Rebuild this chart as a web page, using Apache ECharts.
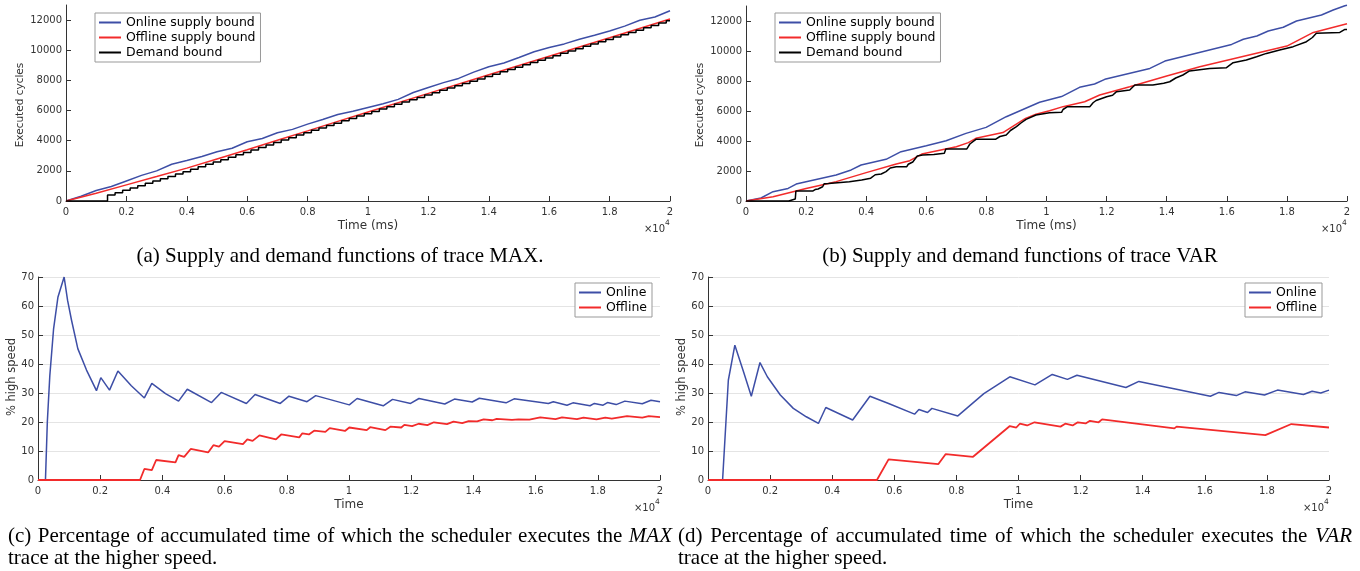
<!DOCTYPE html>
<html>
<head>
<meta charset="utf-8">
<script src="https://cdn.jsdelivr.net/npm/echarts@6/dist/echarts.min.js"></script>
<style>
  html, body { margin: 0; padding: 0; background: #fff; }
  #main { width: 1360px; height: 571px; }
</style>
</head>
<body>
<div id="main"></div>
<script>
// x ticks are shown in units of 10^4 ms
var xTickLabels = ['0', '0.2', '0.4', '0.6', '0.8', '1', '1.2', '1.4', '1.6', '1.8', '2'];
var cycleTicks = [0, 2000, 4000, 6000, 8000, 10000, 12000];

// (a) trace MAX, [time ms, executed cycles]
var maxOnline = [[0, 0], [500, 320], [1000, 700], [1500, 960], [2000, 1330], [2500, 1700], [3000, 2000],
	[3500, 2440], [4000, 2680], [4500, 2950], [5000, 3270], [5500, 3500], [6000, 3930], [6500, 4150],
	[7000, 4530], [7500, 4750], [8000, 5100], [8500, 5400], [9000, 5740], [9500, 5950], [10000, 6200],
	[10500, 6450], [11000, 6740], [11500, 7200], [12000, 7530], [12500, 7850], [13000, 8130], [13500, 8550],
	[14000, 8900], [14500, 9150], [15000, 9520], [15500, 9900], [16000, 10180], [16500, 10420],
	[17000, 10730], [17500, 10990], [18000, 11280], [18500, 11600], [19000, 11990], [19500, 12200],
	[20000, 12620]];
var maxOffline = [[0, 0], [1000, 520], [2000, 1070], [3000, 1620], [4000, 2180], [5000, 2790], [6000, 3400],
	[7000, 4030], [8000, 4650], [9000, 5280], [10000, 5900], [12000, 7140], [14000, 8370], [16000, 9600],
	[18000, 10830], [20000, 12070]];
var maxDemand = [[0, 0], [1375, 400], [1625, 550], [1875, 710], [2125, 860], [2375, 1010], [2625, 1170],
	[2875, 1320], [3125, 1480], [3375, 1630], [3625, 1790], [3875, 1940], [4125, 2110], [4375, 2270],
	[4625, 2430], [4875, 2590], [5125, 2740], [5375, 2900], [5625, 3060], [5875, 3220], [6125, 3390],
	[6375, 3550], [6625, 3710], [6875, 3880], [7125, 4040], [7375, 4200], [7625, 4370], [7875, 4530],
	[8125, 4690], [8375, 4850], [8625, 5000], [8875, 5160], [9125, 5320], [9375, 5470], [9625, 5630],
	[9875, 5780], [10125, 5940], [10375, 6100], [10625, 6250], [10875, 6410], [11125, 6560], [11375, 6720],
	[11625, 6870], [11875, 7030], [12125, 7180], [12375, 7340], [12625, 7490], [12875, 7640], [13125, 7800],
	[13375, 7950], [13625, 8100], [13875, 8260], [14125, 8410], [14375, 8570], [14625, 8720], [14875, 8870],
	[15125, 9030], [15375, 9180], [15625, 9340], [15875, 9490], [16125, 9640], [16375, 9800], [16625, 9950],
	[16875, 10100], [17125, 10260], [17375, 10410], [17625, 10570], [17875, 10720], [18125, 10870],
	[18375, 11030], [18625, 11180], [18875, 11330], [19125, 11490], [19375, 11640], [19625, 11800],
	[19875, 11950], [20000, 11950]];

// (b) trace VAR, [time ms, executed cycles]
var varOnline = [[0, 0], [500, 200], [900, 620], [1400, 840], [1670, 1130], [2000, 1290], [3000, 1730],
	[3500, 2070], [3830, 2400], [4660, 2780], [5160, 3290], [6000, 3690], [6660, 4020], [7320, 4510],
	[7990, 4910], [8660, 5620], [9770, 6580], [10500, 6960], [11100, 7580], [11600, 7800], [11940, 8110],
	[13440, 8840], [13940, 9330], [16160, 10440], [16550, 10780], [17000, 11000], [17380, 11330],
	[17880, 11580], [18320, 12000], [19150, 12400], [19540, 12730], [19930, 13020], [20000, 13050]];
var varOffline = [[0, 0], [900, 290], [2000, 840], [3000, 1290], [4000, 1890], [5000, 2470], [5450, 2690],
	[5850, 3130], [7000, 3620], [7400, 3890], [7650, 4180], [8550, 4560], [9300, 5510], [9650, 5780],
	[10100, 6020], [10550, 6290], [11270, 6620], [11770, 7070], [12770, 7620], [14000, 8330], [15100, 8950],
	[18000, 10330], [18880, 11240], [20000, 11820]];
var varDemand = [[0, 0], [1420, 0], [1420, 130], [1640, 130], [1660, 670], [2230, 670], [2300, 760],
	[2400, 800], [2450, 900], [2550, 950], [2600, 1150], [2750, 1170], [2780, 1290], [3440, 1290],
	[3460, 1400], [3850, 1400], [3880, 1520], [4150, 1520], [4200, 1580], [4300, 1750], [4500, 1800],
	[4660, 1960], [4800, 2200], [5000, 2290], [5350, 2290], [5400, 2450], [5550, 2600], [5700, 3000],
	[5880, 3070], [6250, 3100], [6600, 3180], [6650, 3470], [7350, 3470], [7450, 3800], [7650, 4110],
	[8300, 4110], [8450, 4300], [8660, 4400], [8800, 4700], [9000, 4960], [9150, 5200], [9320, 5440],
	[9650, 5730], [10100, 5890], [10500, 5910], [10550, 6100], [10700, 6290], [11440, 6290], [11550, 6550],
	[11650, 6700], [12000, 6950], [12200, 7050], [12330, 7290], [12770, 7400], [12940, 7730], [13540, 7730],
	[13900, 7850], [14100, 7950], [14300, 8200], [14540, 8400], [14760, 8670], [15430, 8840], [15990, 8890],
	[16210, 9220], [16650, 9400], [16990, 9620], [17320, 9840], [17760, 10070], [18210, 10290],
	[18650, 10620], [18850, 10900], [18980, 11180], [19760, 11240], [19930, 11440], [20000, 11440]];

// (c) % high speed, trace MAX
var pctMaxOnline = [[0, 0], [240, 0], [300, 20], [380, 36], [500, 52], [640, 63], [840, 70], [950, 62],
	[1080, 55], [1280, 45.3], [1560, 37.9], [1880, 30.8], [2020, 35.3], [2300, 31], [2570, 37.6],
	[3000, 32.5], [3420, 28.3], [3660, 33.3], [4100, 29.8], [4520, 27.2], [4800, 31.3], [5580, 26.7],
	[5890, 30.2], [6700, 26.4], [6980, 29.5], [7790, 26.4], [8070, 28.9], [8650, 27], [8930, 29.1],
	[10010, 25.9], [10260, 28.1], [11100, 25.6], [11400, 27.8], [11980, 26.4], [12250, 28.1], [13080, 26.2],
	[13390, 27.9], [13960, 26.9], [14190, 28.2], [15050, 26.6], [15310, 28], [16410, 26.4], [16570, 27],
	[17010, 25.8], [17200, 26.6], [17750, 25.6], [17890, 26.4], [18170, 25.8], [18310, 26.7], [18590, 26],
	[18870, 27.2], [19430, 26.3], [19710, 27.5], [20000, 27]];
var pctMaxOffline = [[0, 0], [3280, 0], [3420, 3.8], [3660, 3.4], [3800, 6.9], [4420, 6.1], [4520, 8.6],
	[4700, 8], [4910, 10.7], [5470, 9.5], [5640, 12], [5820, 11.5], [6000, 13.4], [6590, 12.4], [6730, 14],
	[6900, 13.5], [7120, 15.4], [7650, 14], [7820, 15.7], [8400, 14.7], [8500, 16.1], [8710, 15.7],
	[8880, 17], [9240, 16.6], [9380, 17.9], [9870, 16.9], [10010, 18.1], [10570, 17.2], [10680, 18.2],
	[11170, 17.2], [11330, 18.4], [11680, 18.1], [11780, 19], [12030, 18.6], [12240, 19.4], [12520, 18.9],
	[12730, 19.9], [13150, 19.3], [13360, 20.1], [13640, 19.6], [13850, 20.3], [14120, 20.2], [14330, 20.9],
	[14610, 20.6], [14750, 21.1], [15240, 20.7], [15450, 20.9], [15800, 20.8], [16150, 21.6], [16640, 21],
	[16850, 21.6], [17330, 21], [17540, 21.5], [17960, 20.9], [18240, 21.5], [18450, 21.2], [18940, 22],
	[19430, 21.5], [19640, 22], [20000, 21.7]];

// (d) % high speed, trace VAR
var pctVarOnline = [[0, 0], [470, 0], [655, 34.4], [865, 46.5], [1144, 37.3], [1395, 28.9], [1674, 40.5],
	[1911, 35.6], [2329, 29.3], [2748, 24.7], [3166, 21.8], [3556, 19.5], [3794, 25], [4658, 20.7],
	[5216, 28.9], [5816, 26.4], [6653, 22.7], [6792, 24.3], [7071, 23.3], [7211, 24.7], [8047, 22.1],
	[8884, 29.8], [9721, 35.6], [10530, 32.8], [11088, 36.4], [11576, 34.7], [11883, 36.1], [13459, 31.9],
	[13877, 34], [16179, 28.9], [16458, 30.2], [17016, 29.1], [17295, 30.4], [17922, 29.3], [18341, 31],
	[19178, 29.5], [19456, 30.6], [19735, 30], [20000, 31]];
var pctVarOffline = [[0, 0], [5440, 0], [5816, 7.1], [7420, 5.5], [7657, 8.95], [8536, 8], [9721, 18.6],
	[9930, 18.1], [10042, 19.4], [10279, 18.8], [10516, 19.9], [11353, 18.4], [11506, 19.4], [11743, 18.8],
	[11911, 19.9], [12162, 19.5], [12301, 20.4], [12580, 19.9], [12692, 20.9], [15021, 17.8], [15091, 18.4],
	[17950, 15.5], [18787, 19.3], [20000, 18.1]];

var BLUE = '#3d4ea6';
var RED = '#f22b2b';
var AXIS = '#333';
var TICK_FONT = 'DejaVu Sans';
var SERIF = '"Liberation Serif"';
var CAPTION = '21px ' + SERIF;

// grids in pixels: a, b, c, d
var grids = [
	{left: 66, top: 5, width: 604, height: 196},
	{left: 746, top: 6, width: 601, height: 195},
	{left: 38, top: 277, width: 622, height: 203},
	{left: 708, top: 277, width: 621, height: 203}
];

function plainNumber(v) {
	return String(v);
}

function xAxisFor(i) {
	return {
		type: 'value', gridIndex: i, min: 0, max: 20000, interval: 2000,
		axisLine: {lineStyle: {color: AXIS, width: 1}},
		axisTick: {inside: true, length: 5, lineStyle: {color: AXIS}},
		axisLabel: {
			margin: 6, color: AXIS, fontFamily: TICK_FONT, fontSize: 10,
			formatter: function(v) {
				return xTickLabels[Math.round(v / 2000)];
			}
		},
		splitLine: {show: false}
	};
}

function yAxisCycles(i) {
	return {
		type: 'value', gridIndex: i, min: 0, max: 13000, interval: 2000,
		axisLine: {show: true, lineStyle: {color: AXIS, width: 1}},
		axisTick: {show: true, inside: true, length: 5, lineStyle: {color: AXIS}, customValues: cycleTicks},
		axisLabel: {margin: 4, color: AXIS, fontFamily: TICK_FONT, fontSize: 10, customValues: cycleTicks,
			formatter: plainNumber},
		splitLine: {show: false}
	};
}

function yAxisPct(i) {
	return {
		type: 'value', gridIndex: i, min: 0, max: 70, interval: 10,
		axisLine: {show: true, lineStyle: {color: AXIS, width: 1}},
		axisTick: {show: true, inside: true, length: 5, lineStyle: {color: AXIS}},
		axisLabel: {margin: 4, color: AXIS, fontFamily: TICK_FONT, fontSize: 10, formatter: plainNumber},
		splitLine: {show: true, lineStyle: {color: '#e4e4e4', width: 1}}
	};
}

function line(name, data, i, color, extra) {
	var s = {
		type: 'line', name: name, data: data, xAxisIndex: i, yAxisIndex: i,
		symbol: 'none', showSymbol: false, clip: false,
		lineStyle: {color: color, width: 1.5}, itemStyle: {color: color}
	};
	for (var k in extra) {
		s[k] = extra[k];
	}
	return s;
}

function legendAt(left, top, names) {
	return {
		data: names, left: left, top: top, orient: 'vertical',
		itemWidth: 22, itemHeight: 14, itemGap: 2, padding: [3, 5, 3, 3],
		borderColor: '#999', borderWidth: 1, backgroundColor: '#fff',
		itemStyle: {opacity: 0},
		textStyle: {fontFamily: TICK_FONT, fontSize: 12.5, color: '#000'},
		selectedMode: false
	};
}

function text(str, x, y, font, opts) {
	opts = opts || {};
	return {
		type: 'text', x: x, y: y, rotation: opts.rotation || 0, silent: true,
		style: {
			text: str, font: font, fill: opts.fill || '#000',
			textAlign: opts.align || 'center', align: opts.align || 'center',
			textVerticalAlign: 'middle', verticalAlign: 'middle'
		}
	};
}

// one line of a justified caption, words spread between x0 and x1
var measureCtx = document.createElement('canvas').getContext('2d');
function justified(words, italic, x0, x1, y) {
	var fonts = words.map(function(w) {
		return (italic.indexOf(w) >= 0 ? 'italic ' : '') + CAPTION;
	});
	var widths = words.map(function(w, i) {
		measureCtx.font = fonts[i];
		return measureCtx.measureText(w).width;
	});
	var total = widths.reduce(function(a, b) { return a + b; }, 0);
	var gap = (x1 - x0 - total) / (words.length - 1);
	var out = [];
	var x = x0;
	words.forEach(function(w, i) {
		out.push(text(w, x, y, fonts[i], {align: 'left'}));
		x += widths[i] + gap;
	});
	return out;
}

function axisNames(g, xName, yName, yNameX, yNameY, xNameY, yNameFont) {
	var right = g.left + g.width;
	var cx = g.left + g.width / 2;
	var powY = g.top + g.height + 28;
	return [
		text(xName, cx, xNameY, '12px "DejaVu Sans"', {fill: AXIS}),
		text(yName, yNameX, yNameY, yNameFont, {fill: AXIS, rotation: Math.PI / 2}),
		text('\u00d710', right - 5, powY, '10px "DejaVu Sans"', {fill: AXIS, align: 'right'}),
		text('4', right - 5, powY - 6, '7.5px "DejaVu Sans"', {fill: AXIS, align: 'left'})
	];
}

var graphics = [];
graphics = graphics.concat(axisNames(grids[0], 'Time (ms)', 'Executed cycles', 20, 105, 226, '10.5px "DejaVu Sans"'));
graphics = graphics.concat(axisNames(grids[1], 'Time (ms)', 'Executed cycles', 700, 105, 226, '10.5px "DejaVu Sans"'));
graphics = graphics.concat(axisNames(grids[2], 'Time', '% high speed', 12, 377, 505, '11.5px "DejaVu Sans"'));
graphics = graphics.concat(axisNames(grids[3], 'Time', '% high speed', 682, 377, 505, '11.5px "DejaVu Sans"'));

graphics.push(text('(a) Supply and demand functions of trace MAX.', 340, 256, CAPTION));
graphics.push(text('(b) Supply and demand functions of trace VAR', 1020, 256, CAPTION));
graphics = graphics.concat(justified(
	'(c) Percentage of accumulated time of which the scheduler executes the MAX'.split(' '),
	['MAX'], 8, 672, 536));
graphics.push(text('trace at the higher speed.', 8, 558, CAPTION, {align: 'left'}));
graphics = graphics.concat(justified(
	'(d) Percentage of accumulated time of which the scheduler executes the VAR'.split(' '),
	['VAR'], 678, 1352, 536));
graphics.push(text('trace at the higher speed.', 678, 558, CAPTION, {align: 'left'}));

var option = {
	animation: false,
	backgroundColor: '#fff',
	grid: grids,
	xAxis: [xAxisFor(0), xAxisFor(1), xAxisFor(2), xAxisFor(3)],
	yAxis: [yAxisCycles(0), yAxisCycles(1), yAxisPct(2), yAxisPct(3)],
	legend: [
		legendAt(95, 13, ['Online supply bound', 'Offline supply bound', 'Demand bound']),
		legendAt(775, 13, ['Online supply bound', 'Offline supply bound', 'Demand bound']),
		legendAt(575, 283, ['Online', 'Offline']),
		legendAt(1245, 283, ['Online', 'Offline'])
	],
	series: [
		line('Online supply bound', maxOnline, 0, BLUE),
		line('Offline supply bound', maxOffline, 0, RED),
		line('Demand bound', maxDemand, 0, '#000', {step: 'end'}),
		line('Online supply bound', varOnline, 1, BLUE),
		line('Offline supply bound', varOffline, 1, RED),
		line('Demand bound', varDemand, 1, '#000'),
		line('Online', pctMaxOnline, 2, BLUE),
		line('Offline', pctMaxOffline, 2, RED, {lineStyle: {color: RED, width: 1.8}}),
		line('Online', pctVarOnline, 3, BLUE),
		line('Offline', pctVarOffline, 3, RED, {lineStyle: {color: RED, width: 1.8}})
	],
	graphic: {elements: graphics}
};

var chart = echarts.init(document.getElementById('main'), null, {renderer: 'canvas'});
chart.setOption(option);
</script>
</body>
</html>
